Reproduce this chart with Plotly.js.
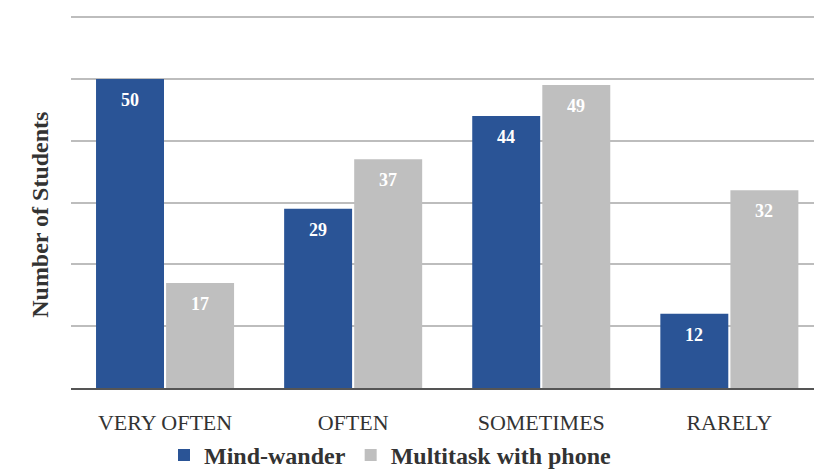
<!DOCTYPE html>
<html>
<head>
<meta charset="utf-8">
<script src="https://cdn.plot.ly/plotly-3.0.1.min.js"></script>
<style>html,body{margin:0;padding:0;background:#fff;}#chart{width:814px;height:473px;}</style>
</head>
<body>
<div id="chart"></div>
<script>
const categories = ["VERY OFTEN", "OFTEN", "SOMETIMES", "RARELY"];
const mindWander = [50, 29, 44, 12];
const multitask = [17, 37, 49, 32];
const seriesNames = ["Mind-wander", "Multitask with phone"];
const yTitle = "Number of Students";

const serif = "Liberation Serif";
const blue = "#2a5496";
const gray = "#bfbfbf";

const traces = [
  {type: "bar", name: "<b>" + seriesNames[0] + "</b>", x: categories, y: mindWander,
   marker: {color: blue}, hoverinfo: "none"},
  {type: "bar", name: "<b>" + seriesNames[1] + "</b>", x: categories, y: multitask,
   marker: {color: gray}, hoverinfo: "none"}
];

const annotations = [];
[mindWander, multitask].forEach((vals, s) => {
  vals.forEach((v, i) => {
    annotations.push({
      x: categories[i], y: v, xref: "x", yref: "y",
      text: "<b>" + v + "</b>", showarrow: false,
      xshift: s === 0 ? -35 : 35, yshift: -21,
      font: {family: serif, size: 18, color: "#ffffff"}
    });
  });
});
annotations.push({
  xref: "paper", yref: "paper", x: -0.063, y: 0.4636,
  text: "<b>" + yTitle + "</b>", showarrow: false, textangle: -90,
  font: {family: serif, size: 24, color: "#333333"}
});

const layout = {
  width: 814, height: 473,
  margin: {l: 71, r: 0, t: 14, b: 85, autoexpand: false},
  paper_bgcolor: "#ffffff", plot_bgcolor: "#ffffff",
  font: {family: serif},
  barmode: "group", bargap: 0.255, bargroupgap: 0.03,
  xaxis: {
    type: "category", range: [-0.5, 3.45], automargin: false,
    showgrid: false, zeroline: false,
    showline: true, linecolor: "#555555", linewidth: 2,
    ticks: "", ticklabelstandoff: 14,
    tickfont: {family: serif, size: 22, color: "#333333"}
  },
  yaxis: {
    range: [0, 60.5], dtick: 10, tick0: 0, automargin: false,
    showticklabels: false, showgrid: true, gridcolor: "#bdbdbd", gridwidth: 2,
    zeroline: false, showline: false
  },
  showlegend: true,
  legend: {
    orientation: "h", x: 0.43, xanchor: "center", y: -0.12, yanchor: "top",
    font: {family: serif, size: 24, color: "#333333"},
    itemclick: false, itemdoubleclick: false, traceorder: "normal",
    bgcolor: "rgba(0,0,0,0)"
  },
  annotations: annotations
};

Plotly.newPlot("chart", traces, layout, {staticPlot: true, displayModeBar: false});
</script>
</body>
</html>
